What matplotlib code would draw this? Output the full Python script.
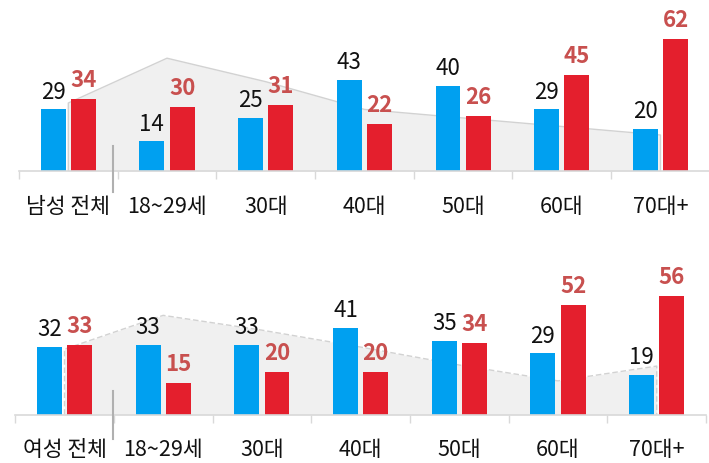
import matplotlib
matplotlib.use("Agg")
import matplotlib.pyplot as plt
from matplotlib.transforms import blended_transform_factory

plt.rcParams['font.family'] = ['Noto Sans CJK KR', 'DejaVu Sans']

categories_men = ['남성 전체', '18~29세', '30대', '40대', '50대', '60대', '70대+']
categories_women = ['여성 전체', '18~29세', '30대', '40대', '50대', '60대', '70대+']
men_blue = [29, 14, 25, 43, 40, 29, 20]
men_red = [34, 30, 31, 22, 26, 45, 62]
men_area = [32, 53, 42, 29, 25, 21, 17]
women_blue = [32, 33, 33, 41, 35, 29, 19]
women_red = [33, 15, 20, 20, 34, 52, 56]
women_area = [31, 47, 40, 32, 23.5, 16, 23]

BLUE = '#00a0f0'
RED = '#e41f2d'
RED_TXT = '#c8504f'
W, H = 709, 464

fig = plt.figure(figsize=(W / 100, H / 100), dpi=100)


def panel(left_px, base_px, scale, cats, blue, red, area, dashed, sep_x, sep_y):
    ymax = 70
    h_px = scale * ymax
    width_px = 7 * 98.7
    ax = fig.add_axes([left_px / W, (H - base_px) / H, width_px / W, h_px / H])
    ax.set_xlim(-0.5, 6.5)
    ax.set_ylim(0, ymax)
    x = list(range(len(cats)))
    # area
    ax.fill_between(x, area, 0, color='#f0f0f0', zorder=1, lw=0)
    ox = [x[0]] + x + [x[-1]]
    oy = [0] + list(area) + [0]
    ax.plot(ox, oy, color='#d2d2d2', lw=1, ls=(0, (4, 2)) if dashed else '-', zorder=1.5)
    bw = 0.253
    off = 0.153
    ax.bar([i - off for i in x], blue, bw, color=BLUE, zorder=2)
    ax.bar([i + off for i in x], red, bw, color=RED, zorder=2)
    for i in x:
        ax.annotate(f'{blue[i]}', xy=(i - off, blue[i]), xytext=(0, 8.5), textcoords='offset points',
                    ha='center', va='baseline', fontsize=16, color='#111111')
        ax.annotate(f'{red[i]}', xy=(i + off, red[i]), xytext=(0, 9.5), textcoords='offset points',
                    ha='center', va='baseline', fontsize=16, color=RED_TXT, fontweight='bold')
        ax.annotate(cats[i], xy=(i, 0), xytext=(0, -25), textcoords='offset points',
                    ha='center', va='center', fontsize=15.5, color='#111111')
    for s in ['top', 'right', 'left']:
        ax.spines[s].set_visible(False)
    ax.spines['bottom'].set_color('#d9d9d9')
    ax.spines['bottom'].set_linewidth(1.2)
    ax.set_yticks([])
    ax.set_xticks([i - 0.5 for i in range(len(cats) + 1)])
    ax.set_xticklabels([])
    ax.tick_params(axis='x', length=5.5, color='#d9d9d9', width=1)
    # separator
    trans = blended_transform_factory(ax.transData, fig.transFigure)
    ax.plot([sep_x, sep_x], [(H - sep_y[0]) / H, (H - sep_y[1]) / H], transform=trans,
            color='#b0b0b0', lw=1.5, clip_on=False, zorder=3)
    return ax


panel(18.95, 172.3, 2.134, categories_men, men_blue, men_red, men_area, False, 0.45, (146.7, 193))
panel(15.15, 415.7, 2.114, categories_women, women_blue, women_red, women_area, True, 0.488, (391.7, 440))

fig.savefig('out.png', dpi=100)
